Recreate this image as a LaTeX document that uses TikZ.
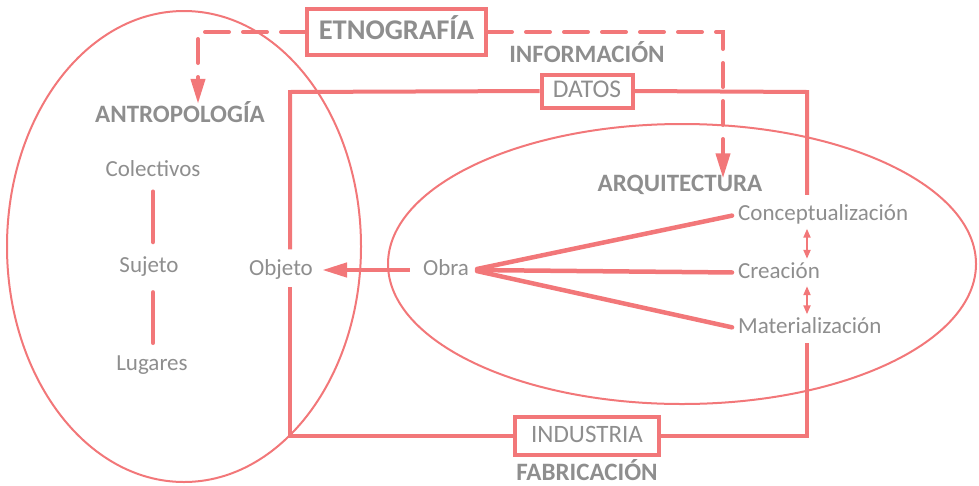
\documentclass[tikz,border=0pt]{standalone}
\usepackage{fontspec}
\setmainfont{Carlito}
\usepackage{xcolor}
\usetikzlibrary{arrows.meta}

\definecolor{rosa}{HTML}{F27779}
\definecolor{gris}{HTML}{8E8E8E}

\tikzset{
	texto/.style={text=gris,font=\fontsize{23}{26}\selectfont,text height=16pt,text depth=5pt,inner sep=3pt},
	titulo/.style={text=gris,font=\fontsize{25}{28}\selectfont\bfseries,text height=16pt,text depth=5pt,inner sep=2pt},
	caja/.style={draw=rosa,line width=4pt,fill=white,text=gris,font=\fontsize{25}{28}\selectfont,text height=16pt,text depth=4pt,inner sep=0pt},
	marco/.style={draw=rosa,line width=4pt},
	rayas/.style={draw=rosa,line width=4pt,line cap=round,dash pattern=on 24pt off 14pt},
	enlace/.style={draw=rosa,line width=4.5pt,line cap=round},
	globo/.style={draw=rosa,line width=2pt},
	flecha/.style={-{Triangle[length=25pt,width=14pt]}},
	doble/.style={draw=rosa,line width=2pt,{Triangle[length=9pt,width=7pt]}-{Triangle[length=9pt,width=7pt]}}
}

\begin{document}
\begin{tikzpicture}[x=1pt,y=-1pt]
			\useasboundingbox (0,0) rectangle (979,485);

			\draw[globo] (184,246.5) ellipse [x radius=177pt,y radius=235.5pt];
			\draw[globo] (682,264) ellipse [x radius=294pt,y radius=140pt];

			\node[titulo] (antropo) at (180,116.5) {ANTROPOLOGÍA};
			\node[titulo] (info) at (587,57) {INFORMACIÓN};
			\node[titulo] (arqui) at (680,186) {ARQUITECTURA};
			\node[titulo,text depth=0pt,inner sep=0pt] (fabrica) at (587,472.5) {FABRICACIÓN};

			\node[texto] (colectivos) at (153,171) {Colectivos};
			\node[texto] (sujeto) at (149,266.7) {Sujeto};
			\node[texto] (lugares) at (152,364.5) {Lugares};
			\node[texto] (objeto) at (281,270) {Objeto};
			\node[texto] (obra) at (446,270) {Obra};
			\node[texto,anchor=west] (concepto) at (735,215) {Conceptualización};
			\node[texto,anchor=west] (creacion) at (735,272.5) {Creación};
			\node[texto,anchor=west] (materia) at (735,328) {Materialización};

			\coordinate (no) at (290,92);
			\coordinate (ne) at (807,92);
			\coordinate (se) at (807,436);
			\coordinate (so) at (290,436);
			\coordinate (giro1) at (198,32);
			\coordinate (giro2) at (723,32);

			\node[caja,font=\fontsize{25.5}{28}\selectfont,minimum width=91pt,minimum height=33pt] (datos) at (587,91) {DATOS};
			\node[caja,minimum width=144pt,minimum height=38pt] (industria) at (587,436) {INDUSTRIA};
			\node[caja,font=\fontsize{28.5}{31}\selectfont\bfseries,text height=19pt,text depth=5pt,minimum width=179pt,minimum height=46pt] (etno) at (396.5,32) {ETNOGRAFÍA};

			\draw[marco,shorten <=7pt] (objeto.north -| no) -- (no) -- (datos.west);
			\draw[marco,shorten >=6.5pt] (datos.east) -- (ne) -- (concepto.north -| ne);
			\draw[marco,shorten <=1.5pt] (materia.south -| se) -- (se) -- (industria.east);
			\draw[marco,shorten >=3.5pt] (industria.west) -- (so) -- (objeto.south -| so);

			\draw[rayas,flecha] (etno.west) -- (giro1) -- (giro1 |- antropo.north);
			\draw[rayas,flecha,shorten >=-5pt] (etno.east) -- (giro2) -- (giro2 |- arqui.north);

			\draw[enlace,shorten <=7pt,shorten >=11pt] (colectivos.south) -- (colectivos.south |- sujeto.north);
			\draw[enlace,shorten <=12pt,shorten >=8pt] (colectivos.south |- sujeto.south) -- (colectivos.south |- lugares.north);

			\draw[enlace,shorten <=5pt,shorten >=3pt] (obra.east) -- (concepto.west);
			\draw[enlace,shorten <=5pt,shorten >=3pt] (obra.east) -- (creacion.west);
			\draw[enlace,shorten <=5pt,shorten >=3pt] (obra.east) -- (materia.west);
			\draw[enlace,flecha,line cap=butt,shorten <=10pt,shorten >=6pt] (obra.west) -- (objeto.east);

			\draw[doble] (concepto.south -| ne) -- (creacion.north -| ne);
			\draw[doble] (creacion.south -| ne) -- (materia.north -| ne);
		\end{tikzpicture}
\end{document}
